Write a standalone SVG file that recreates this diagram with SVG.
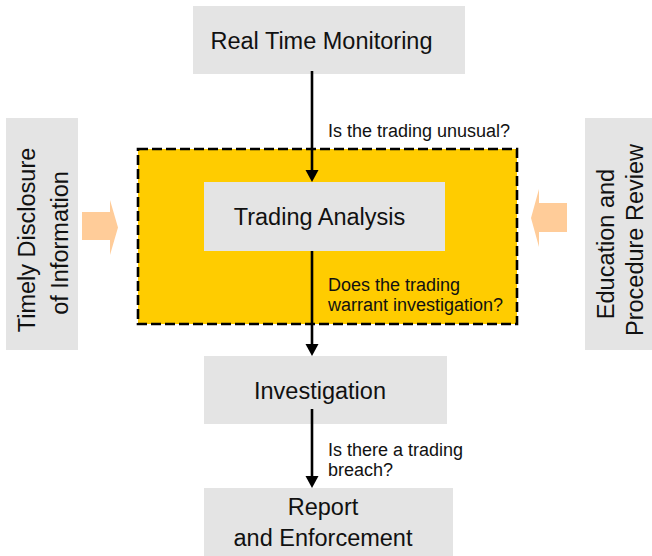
<svg xmlns="http://www.w3.org/2000/svg" width="652" height="556" viewBox="0 0 652 556">
<defs>
<style>
.box{fill:#E4E4E4;}
.big{font-family:"Liberation Sans",Arial,sans-serif;font-size:23.5px;fill:#111;text-anchor:middle;}
.lbl{font-family:"Liberation Sans",Arial,sans-serif;font-size:18px;fill:#111;}
.conn{stroke:#000;stroke-width:2.6;fill:none;}
.head{fill:#000;}
.peach{fill:#FFCC99;}
</style>
</defs>
<rect width="652" height="556" fill="#fff"/>

<g id="scope">
<rect x="138" y="149" width="379" height="175" fill="#FFCC00" stroke="#000" stroke-width="2.6" stroke-dasharray="10,4"/>
</g>

<g id="real-time-monitoring">
<rect class="box" x="193" y="6" width="272" height="68"/>
<text class="big" x="321.5" y="49">Real Time Monitoring</text>
</g>

<g id="trading-analysis">
<rect class="box" x="204" y="182" width="241" height="69"/>
<text class="big" x="319.5" y="225">Trading Analysis</text>
</g>

<g id="investigation">
<rect class="box" x="204" y="356" width="243" height="68"/>
<text class="big" x="320" y="399">Investigation</text>
</g>

<g id="report-enforcement">
<rect class="box" x="204" y="488" width="249" height="68"/>
<text class="big" x="323" y="515">Report</text>
<text class="big" x="323" y="546">and Enforcement</text>
</g>

<g id="timely-disclosure">
<rect class="box" x="6" y="118" width="72" height="232"/>
<text class="big" transform="translate(34.5,240) rotate(-90)">Timely Disclosure</text>
<text class="big" transform="translate(67.5,243) rotate(-90)">of Information</text>
</g>

<g id="education-review">
<rect class="box" x="585" y="118" width="67" height="232"/>
<text class="big" transform="translate(613.5,244) rotate(-90)">Education and</text>
<text class="big" transform="translate(643.3,240) rotate(-90)">Procedure Review</text>
</g>

<g id="side-arrows">
<polygon class="peach" points="82,212 110,212 110,200 118,227.5 110,255 110,240 82,240"/>
<polygon class="peach" points="567,203 539,203 539,189 531,218 539,247 539,232 567,232"/>
</g>

<g id="connectors">
<line class="conn" x1="312" y1="71" x2="312" y2="172"/>
<polygon class="head" points="305.5,170 318.5,170 312,182"/>
<line class="conn" x1="312" y1="251" x2="312" y2="346"/>
<polygon class="head" points="305.5,344 318.5,344 312,356"/>
<line class="conn" x1="312" y1="409" x2="312" y2="478"/>
<polygon class="head" points="305.5,476 318.5,476 312,488"/>
</g>

<g id="labels">
<text class="lbl" x="328" y="136.5">Is the trading unusual?</text>
<text class="lbl" x="328" y="291">Does the trading</text>
<text class="lbl" x="328" y="311">warrant investigation?</text>
<text class="lbl" x="328" y="456">Is there a trading</text>
<text class="lbl" x="328" y="476">breach?</text>
</g>
</svg>
